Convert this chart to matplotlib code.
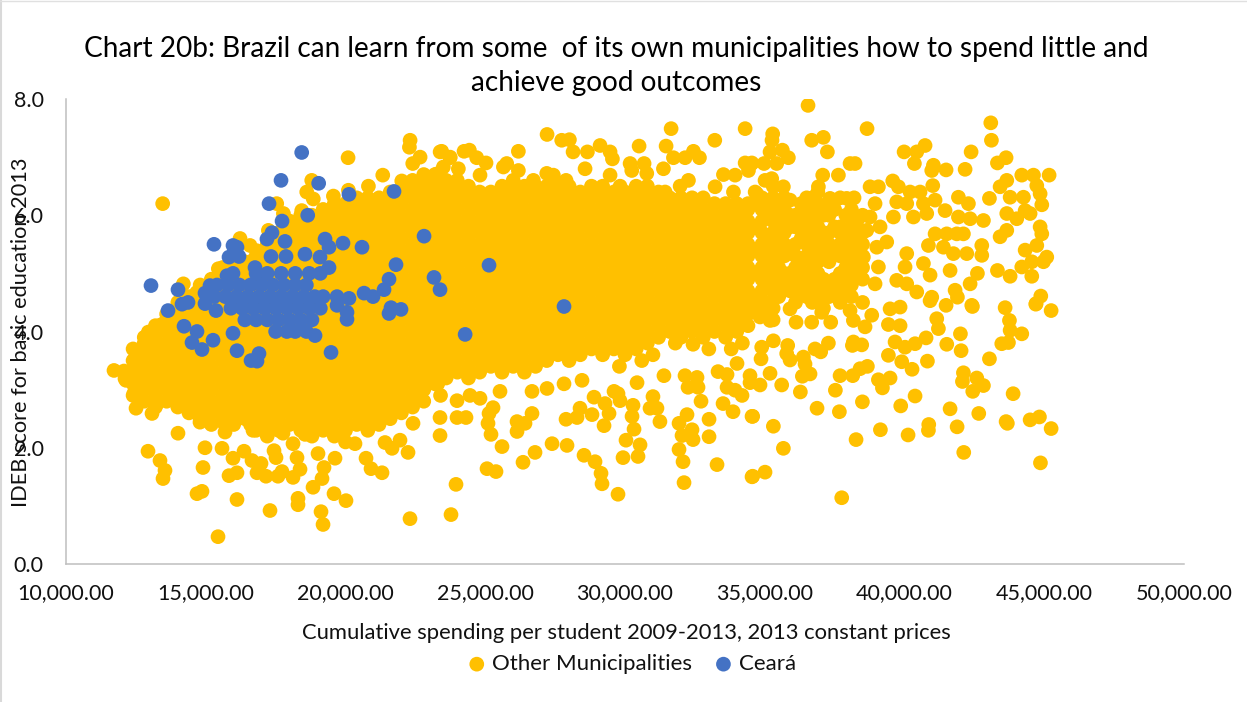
import matplotlib
matplotlib.use("Agg")
import matplotlib.pyplot as plt
from matplotlib.lines import Line2D
from matplotlib.ticker import StrMethodFormatter

plt.rcParams["font.family"] = ["Lato", "DejaVu Sans"]

title_text = "Chart 20b: Brazil can learn from some  of its own municipalities how to spend little and\nachieve good outcomes"
x_title = "Cumulative spending per student 2009-2013, 2013 constant prices"
y_title = "IDEB score for basic education 2013"
x_ticks = [10000, 15000, 20000, 25000, 30000, 35000, 40000, 45000, 50000]
y_ticks = [0, 2, 4, 6, 8]

# The solid middle of the cloud, read column by column: spending, then the scores at that spending.
body_spend = [12400, 12800, 13200, 13600, 14000, 14400, 14800, 15200, 15600, 16000, 16400, 16600, 16800, 17200, 17600,
              18000, 18400, 18800, 19200, 19600, 20000, 20400, 20800, 21200, 21600, 22000, 22400, 22800, 23200,
              23600, 24000, 24400, 24800, 25200, 25600, 26000, 26400, 26800, 27200, 27600, 28000, 28400, 28800,
              29200, 29600, 30000, 30400, 30800, 31200, 31600, 32000, 32400, 32800, 33200, 33600, 34000, 34400,
              34900, 35300, 35700, 36100, 36500, 36900, 37300, 37700, 38100, 38500]
body_scores = [
    [2.9, 3.1, 3.3, 3.5, 3.7],
    [2.8, 3.0, 3.2, 3.4, 3.6, 3.8, 3.9],
    [2.7, 2.9, 3.1, 3.3, 3.5, 3.7, 3.9, 4.1],
    [2.8, 3.0, 3.2, 3.4, 3.6, 3.8, 4.0, 4.2, 4.3],
    [2.7, 2.9, 3.1, 3.3, 3.5, 3.7, 3.9, 4.1, 4.3, 4.5],
    [2.6, 2.8, 3.0, 3.2, 3.4, 3.6, 3.8, 4.0, 4.2, 4.4, 4.6],
    [2.5, 2.7, 2.9, 3.1, 3.3, 3.5, 3.7, 3.9, 4.1, 4.3, 4.5, 4.7, 4.8],
    [2.4, 2.6, 2.8, 3.0, 3.2, 3.4, 3.6, 3.8, 4.0, 4.2, 4.4, 4.6, 4.8, 4.9],
    [2.5, 2.7, 2.9, 3.1, 3.3, 3.5, 3.7, 3.9, 4.1, 4.3, 4.5, 4.7, 4.9, 5.1],
    [2.4, 2.6, 2.8, 3.0, 3.2, 3.4, 3.6, 3.8, 4.0, 4.2, 4.4, 4.6, 4.8, 5.0, 5.2],
    [2.5, 2.7, 2.9, 3.1, 3.3, 3.5, 3.7, 3.9, 4.1, 4.3, 4.5, 4.7, 4.9, 5.1, 5.2],
    [2.4, 2.6, 2.8, 3.0, 3.2, 3.4, 3.6, 3.8, 4.0, 4.2, 4.4, 4.6, 4.8, 5.0, 5.2],
    [2.3, 2.5, 2.7, 2.9, 3.1, 3.3, 3.5, 3.7, 3.9, 4.1, 4.3, 4.5, 4.7, 4.9, 5.1, 5.3],
    [2.2, 2.4, 2.6, 2.8, 3.0, 3.2, 3.4, 3.6, 3.8, 4.0, 4.2, 4.4, 4.6, 4.8, 5.0, 5.2, 5.4, 5.5],
    [2.3, 2.5, 2.7, 2.9, 3.1, 3.3, 3.5, 3.7, 3.9, 4.1, 4.3, 4.5, 4.7, 4.9, 5.1, 5.3, 5.5, 5.7],
    [2.4, 2.6, 2.8, 3.0, 3.2, 3.4, 3.6, 3.8, 4.0, 4.2, 4.4, 4.6, 4.8, 5.0, 5.2, 5.4, 5.6, 5.8, 5.9],
    [2.3, 2.5, 2.7, 2.9, 3.1, 3.3, 3.5, 3.7, 3.9, 4.1, 4.3, 4.5, 4.7, 4.9, 5.1, 5.3, 5.5, 5.7, 5.9, 6.0],
    [2.2, 2.4, 2.6, 2.8, 3.0, 3.2, 3.4, 3.6, 3.8, 4.0, 4.2, 4.4, 4.6, 4.8, 5.0, 5.2, 5.4, 5.6, 5.8, 6.0],
    [2.3, 2.5, 2.7, 2.9, 3.1, 3.3, 3.5, 3.7, 3.9, 4.1, 4.3, 4.5, 4.7, 4.9, 5.1, 5.3, 5.5, 5.7, 5.9, 6.1],
    [2.2, 2.4, 2.6, 2.8, 3.0, 3.2, 3.4, 3.6, 3.8, 4.0, 4.2, 4.4, 4.6, 4.8, 5.0, 5.2, 5.4, 5.6, 5.8, 6.0, 6.2],
    [2.1, 2.3, 2.5, 2.7, 2.9, 3.1, 3.3, 3.5, 3.7, 3.9, 4.1, 4.3, 4.5, 4.7, 4.9, 5.1, 5.3, 5.5, 5.7, 5.9, 6.1, 6.2],
    [2.4, 2.6, 2.8, 3.0, 3.2, 3.4, 3.6, 3.8, 4.0, 4.2, 4.4, 4.6, 4.8, 5.0, 5.2, 5.4, 5.6, 5.8, 6.0, 6.2, 6.3],
    [2.3, 2.5, 2.7, 2.9, 3.1, 3.3, 3.5, 3.7, 3.9, 4.1, 4.3, 4.5, 4.7, 4.9, 5.1, 5.3, 5.5, 5.7, 5.9, 6.1, 6.3],
    [2.4, 2.6, 2.8, 3.0, 3.2, 3.4, 3.6, 3.8, 4.0, 4.2, 4.4, 4.6, 4.8, 5.0, 5.2, 5.4, 5.6, 5.8, 6.0, 6.2, 6.3],
    [2.5, 2.7, 2.9, 3.1, 3.3, 3.5, 3.7, 3.9, 4.1, 4.3, 4.5, 4.7, 4.9, 5.1, 5.3, 5.5, 5.7, 5.9, 6.1, 6.3, 6.4],
    [2.6, 2.8, 3.0, 3.2, 3.4, 3.6, 3.8, 4.0, 4.2, 4.4, 4.6, 4.8, 5.0, 5.2, 5.4, 5.6, 5.8, 6.0, 6.2, 6.4],
    [2.7, 2.9, 3.1, 3.3, 3.5, 3.7, 3.9, 4.1, 4.3, 4.5, 4.7, 4.9, 5.1, 5.3, 5.5, 5.7, 5.9, 6.1, 6.3, 6.5, 6.6],
    [2.8, 3.0, 3.2, 3.4, 3.6, 3.8, 4.0, 4.2, 4.4, 4.6, 4.8, 5.0, 5.2, 5.4, 5.6, 5.8, 6.0, 6.2, 6.4, 6.6, 6.7],
    [3.1, 3.3, 3.5, 3.7, 3.9, 4.1, 4.3, 4.5, 4.7, 4.9, 5.1, 5.3, 5.5, 5.7, 5.9, 6.1, 6.3, 6.5, 6.7],
    [3.2, 3.4, 3.6, 3.8, 4.0, 4.2, 4.4, 4.6, 4.8, 5.0, 5.2, 5.4, 5.6, 5.8, 6.0, 6.2, 6.4, 6.6],
    [3.3, 3.5, 3.7, 3.9, 4.1, 4.3, 4.5, 4.7, 4.9, 5.1, 5.3, 5.5, 5.7, 5.9, 6.1, 6.3, 6.5, 6.6],
    [3.2, 3.4, 3.6, 3.8, 4.0, 4.2, 4.4, 4.6, 4.8, 5.0, 5.2, 5.4, 5.6, 5.8, 6.0, 6.2, 6.4, 6.5],
    [3.3, 3.5, 3.7, 3.9, 4.1, 4.3, 4.5, 4.7, 4.9, 5.1, 5.3, 5.5, 5.7, 5.9, 6.1, 6.3, 6.4],
    [3.4, 3.6, 3.8, 4.0, 4.2, 4.4, 4.6, 4.8, 5.0, 5.2, 5.4, 5.6, 5.8, 6.0, 6.2, 6.4],
    [3.3, 3.5, 3.7, 3.9, 4.1, 4.3, 4.5, 4.7, 4.9, 5.1, 5.3, 5.5, 5.7, 5.9, 6.1, 6.3, 6.5],
    [3.4, 3.6, 3.8, 4.0, 4.2, 4.4, 4.6, 4.8, 5.0, 5.2, 5.4, 5.6, 5.8, 6.0, 6.2, 6.4, 6.6],
    [3.3, 3.5, 3.7, 3.9, 4.1, 4.3, 4.5, 4.7, 4.9, 5.1, 5.3, 5.5, 5.7, 5.9, 6.1, 6.3, 6.5],
    [3.4, 3.6, 3.8, 4.0, 4.2, 4.4, 4.6, 4.8, 5.0, 5.2, 5.4, 5.6, 5.8, 6.0, 6.2, 6.4, 6.5],
    [3.5, 3.7, 3.9, 4.1, 4.3, 4.5, 4.7, 4.9, 5.1, 5.3, 5.5, 5.7, 5.9, 6.1, 6.3, 6.5],
    [3.6, 3.8, 4.0, 4.2, 4.4, 4.6, 4.8, 5.0, 5.2, 5.4, 5.6, 5.8, 6.0, 6.2, 6.4, 6.5],
    [3.5, 3.7, 3.9, 4.1, 4.3, 4.5, 4.7, 4.9, 5.1, 5.3, 5.5, 5.7, 5.9, 6.1, 6.3, 6.5],
    [3.6, 3.8, 4.0, 4.2, 4.4, 4.6, 4.8, 5.0, 5.2, 5.4, 5.6, 5.8, 6.0, 6.2, 6.4],
    [3.7, 3.9, 4.1, 4.3, 4.5, 4.7, 4.9, 5.1, 5.3, 5.5, 5.7, 5.9, 6.1, 6.3, 6.5],
    [3.6, 3.8, 4.0, 4.2, 4.4, 4.6, 4.8, 5.0, 5.2, 5.4, 5.6, 5.8, 6.0, 6.2, 6.4, 6.5],
    [3.7, 3.9, 4.1, 4.3, 4.5, 4.7, 4.9, 5.1, 5.3, 5.5, 5.7, 5.9, 6.1, 6.3, 6.4],
    [3.6, 3.8, 4.0, 4.2, 4.4, 4.6, 4.8, 5.0, 5.2, 5.4, 5.6, 5.8, 6.0, 6.2, 6.4],
    [3.7, 3.9, 4.1, 4.3, 4.5, 4.7, 4.9, 5.1, 5.3, 5.5, 5.7, 5.9, 6.1, 6.3, 6.5],
    [3.8, 4.0, 4.2, 4.4, 4.6, 4.8, 5.0, 5.2, 5.4, 5.6, 5.8, 6.0, 6.2, 6.4, 6.5],
    [3.9, 4.1, 4.3, 4.5, 4.7, 4.9, 5.1, 5.3, 5.5, 5.7, 5.9, 6.1, 6.3, 6.4],
    [4.0, 4.2, 4.4, 4.6, 4.8, 5.0, 5.2, 5.4, 5.6, 5.8, 6.0, 6.2, 6.3],
    [3.9, 4.1, 4.3, 4.5, 4.7, 4.9, 5.1, 5.3, 5.5, 5.7, 5.9, 6.1, 6.3],
    [4.0, 4.2, 4.4, 4.6, 4.8, 5.0, 5.2, 5.4, 5.6, 5.8, 6.0, 6.2, 6.3],
    [3.9, 4.1, 4.3, 4.5, 4.7, 4.9, 5.1, 5.3, 5.5, 5.7, 5.9, 6.1, 6.3],
    [4.0, 4.2, 4.4, 4.6, 4.8, 5.0, 5.2, 5.4, 5.6, 5.8, 6.0, 6.2],
    [3.9, 4.1, 4.3, 4.5, 4.7, 4.9, 5.1, 5.3, 5.5, 5.7, 5.9, 6.1, 6.2],
    [4.0, 4.2, 4.4, 4.6, 4.8, 5.0, 5.2, 5.4, 5.6, 5.8, 6.0, 6.2],
    [4.1, 4.3, 4.5, 4.7, 4.9, 5.1, 5.3, 5.5, 5.7, 5.9, 6.1, 6.2],
    [4.3, 4.5, 4.7, 4.9, 5.1, 5.3, 5.5, 5.7, 5.9, 6.1, 6.3],
    [4.2, 4.4, 4.7, 4.9, 5.0, 5.2, 5.4, 5.7, 5.9, 6.1, 6.3, 6.5],
    [4.8, 5.0, 5.3, 5.5, 5.7, 5.9, 6.1, 6.3],
    [4.5, 4.7, 4.9, 5.1, 5.3, 5.5, 5.8, 6.0],
    [4.6, 4.8, 5.0, 5.3, 5.5, 5.7, 5.9, 6.1, 6.3],
    [4.5, 4.7, 5.0, 5.2, 5.4, 5.6, 5.8, 6.0, 6.2, 6.4],
    [4.6, 4.8, 5.2, 5.5, 5.7, 6.0, 6.2],
    [4.5, 4.7, 5.0, 5.3, 5.5, 5.7, 5.8, 6.3],
    [4.6, 4.8, 5.2, 5.4, 5.6, 5.8, 6.1],
    [4.5, 4.9, 5.1, 5.3, 5.5, 5.7, 6.0],
]

# Separate dots around the cloud, as (spending, score).
other_low_left = [
    (15439, 0.47), (17299, 0.92), (16118, 1.11), (14687, 1.21), (14866, 1.25), (13471, 1.47), (13542, 1.61),
    (13363, 1.78), (12934, 1.94), (14007, 2.25), (14973, 2.0), (14902, 1.66), (15582, 1.99), (15832, 1.52),
    (16118, 1.57), (15975, 1.82), (16369, 1.94), (16655, 1.78), (16977, 1.73), (16834, 1.57), (17156, 1.51),
    (17585, 1.51), (17728, 1.59), (18122, 1.49), (18373, 1.63), (18265, 1.83), (17442, 1.95), (17514, 1.83),
    (18122, 2.07), (18301, 1.13), (18301, 1.02), (18838, 1.32), (19160, 1.47), (19231, 1.66), (19017, 1.9),
    (19625, 1.82), (19589, 1.21), (20018, 1.09), (19124, 0.9), (19196, 0.68), (20734, 1.82), (20913, 1.64),
    (21307, 1.57), (20340, 2.07), (21414, 2.09), (21665, 1.99), (21950, 2.13), (22237, 1.92), (22308, 0.78),
    (21164, 2.42), (22416, 2.42), (18552, 2.23), (17764, 2.25), (16690, 2.3), (14794, 2.44), (15689, 2.27),
    (15618, 2.44), (12505, 2.68), (13077, 2.59), (12433, 2.94), (13256, 2.76),
]
other_low_mid = [
    (23775, 0.85), (23954, 1.37), (25063, 1.64), (25385, 1.59), (26351, 1.75), (26781, 1.92), (27390, 2.07),
    (27926, 2.04), (28534, 1.87), (28928, 1.76), (29142, 1.56), (29178, 1.38), (29750, 1.2), (29929, 1.83),
    (30466, 1.85), (30538, 2.05), (30036, 2.13), (32112, 1.4), (32076, 1.76), (31933, 1.97), (33293, 1.71),
    (34545, 1.5), (33007, 2.19), (32434, 2.14), (32040, 2.21), (32398, 2.31), (31933, 2.42), (32219, 2.57),
    (33007, 2.49), (34545, 2.54), (33865, 2.62), (33508, 2.76), (34187, 2.9), (33651, 3.04), (32720, 2.8),
    (31250, 2.45), (31144, 2.68), (30895, 2.68), (31001, 2.88), (30287, 2.73), (30252, 2.54), (30323, 2.32),
    (29250, 2.38), (29429, 2.59), (28820, 2.57), (28391, 2.68), (28284, 2.52), (27890, 2.49), (29285, 2.76),
    (28892, 2.87), (29822, 2.81), (29750, 2.93), (29607, 2.97), (25600, 2.02), (25206, 2.23), (25099, 2.42),
    (25135, 2.59), (26137, 2.28), (26137, 2.45), (26423, 2.42), (26673, 2.59), (23990, 2.52), (24312, 2.52),
    (23382, 2.21), (23382, 2.52), (25278, 2.69), (24813, 2.85), (24455, 2.9), (23990, 2.81), (25528, 2.97),
    (26673, 2.97), (27210, 3.02), (27818, 3.1), (28462, 3.16), (30431, 3.12), (31393, 3.24), (32147, 3.24),
    (32577, 3.21), (32255, 3.04), (32613, 3.04), (33329, 3.31), (33651, 3.26), (34008, 3.45), (34473, 3.24),
    (34473, 3.12), (33937, 2.99), (32434, 3.78), (23400, 2.9), (23300, 3.1), (30600, 3.5), (29800, 3.4),
]
other_low_right = [
    (37754, 1.14), (34568, 1.51), (35010, 1.58), (35666, 1.99), (35308, 2.37), (34568, 2.54), (38267, 2.14),
    (39138, 2.31), (40128, 2.22), (40856, 2.3), (40868, 2.4), (41882, 2.36), (42120, 1.92), (41631, 2.67),
    (42657, 2.59), (43635, 2.45), (43680, 2.42), (44494, 2.48), (44828, 2.53), (45246, 2.33), (44864, 1.74),
    (43886, 2.93), (39865, 2.72), (40378, 2.89), (38494, 2.79), (37670, 2.62), (36871, 2.68), (37527, 2.99),
    (36274, 2.96), (35606, 3.08), (34831, 3.08), (35189, 3.28), (36346, 3.23), (36620, 3.27), (36441, 3.44),
    (36382, 3.56), (37694, 3.24), (38148, 3.24), (38410, 3.36), (38672, 3.4), (39066, 3.17), (39484, 3.2),
    (39210, 3.03), (40271, 3.35), (39901, 3.48), (40820, 3.49), (42108, 3.29), (42585, 3.2), (42073, 3.14),
    (42442, 2.97), (42824, 3.07), (43039, 3.53), (42025, 3.67), (42001, 3.96), (41512, 3.78), (39424, 3.59),
    (39662, 3.82), (40020, 3.73), (40378, 3.79), (40772, 3.89), (41213, 4.05), (41154, 4.22), (38135, 3.76),
    (38469, 3.77), (38172, 3.82), (37002, 3.65), (37277, 3.8), (36800, 3.7), (35905, 3.51), (35785, 3.62),
    (35821, 3.76), (34867, 3.53), (34891, 3.73), (35308, 3.84), (43480, 3.79), (43719, 3.81), (44196, 3.96),
    (43779, 4.02), (43755, 4.19), (43600, 4.41), (45246, 4.36), (44697, 4.47), (42430, 4.43), (41488, 4.45),
    (40915, 4.53), (39842, 4.1), (39424, 4.12), (36120, 4.16), (36680, 4.16), (37360, 4.16), (38171, 4.19),
    (38589, 4.08), (38828, 4.28), (39484, 4.39), (39842, 4.42), (35905, 4.39), (34831, 4.25), (35189, 4.19),
    (37038, 4.33), (38052, 4.36),
]
# In-between dots that thicken the right half of the cloud.
other_right_fill = [
    (34650, 4.4), (34650, 4.6), (34650, 5.0), (34650, 5.4), (34650, 5.8), (34650, 6.2), (35100, 4.5), (35100, 4.8),
    (35100, 5.2), (35100, 5.6), (35100, 6.0), (35100, 6.2), (35500, 4.6), (35500, 5.1), (35500, 5.5), (35500, 5.8),
    (35500, 6.0), (35500, 6.2), (35900, 4.7), (35900, 5.0), (35900, 5.4), (35900, 5.8), (35900, 6.0), (36300, 4.8),
    (36300, 5.2), (36300, 5.6), (36300, 5.9), (36300, 6.2), (36700, 4.5), (36700, 4.9), (36700, 5.2), (36700, 5.6),
    (36700, 5.9), (36700, 6.3), (37100, 4.4), (37100, 4.9), (37100, 5.3), (37100, 5.7), (37100, 6.0), (37500, 4.9),
    (37500, 5.4), (37500, 5.8), (37500, 6.1), (37900, 4.9), (37900, 5.1), (37900, 5.6), (37900, 6.0), (38300, 5.0),
    (38300, 5.3), (38300, 5.6), (38300, 5.9), (34200, 3.8), (33800, 3.7), (33000, 3.7), (31000, 3.6), (31800, 3.8),
]
other_top_right = [
    (36549, 7.89), (38660, 7.49), (35284, 7.4), (35260, 7.29), (36680, 7.29), (37097, 7.34), (37241, 7.09),
    (35845, 6.99), (35630, 7.12), (35189, 7.09), (35427, 6.89), (34974, 6.89), (34533, 6.89), (38052, 6.89),
    (38231, 6.89), (37074, 6.69), (37635, 6.69), (36919, 6.49), (35249, 6.63), (35010, 6.6), (35666, 6.49),
    (34712, 6.37), (35905, 6.26), (36680, 6.26), (36322, 6.03), (37336, 6.29), (37933, 6.29), (38195, 6.3),
    (38768, 6.49), (39066, 6.49), (38947, 6.2), (39579, 6.59), (39782, 6.49), (39985, 7.09), (40736, 7.2),
    (40438, 7.09), (40354, 6.89), (41035, 6.86), (41488, 6.78), (40975, 6.77), (42383, 7.09), (42168, 6.79),
    (43087, 7.59), (43110, 7.29), (43635, 6.99), (43325, 6.9), (43659, 6.6), (43420, 6.49), (43039, 6.29),
    (44196, 6.69), (44614, 6.69), (45174, 6.69), (44733, 6.51), (44852, 6.37), (44912, 6.18), (41011, 6.51),
    (40557, 6.4), (40199, 6.4), (41929, 6.31), (42287, 6.2), (41452, 6.08), (41094, 6.26), (44256, 6.31),
    (43779, 6.31), (44494, 6.03), (44017, 5.94), (43659, 6.03), (44316, 6.08), (42824, 5.91), (42347, 5.94),
    (41929, 5.97), (44852, 5.8), (44912, 5.68), (43420, 5.63), (43659, 5.74), (44733, 5.48), (44316, 5.4),
    (45090, 5.28), (44972, 5.2), (44554, 5.2), (44196, 5.11), (43779, 4.95), (44554, 4.95), (43325, 5.05),
    (42609, 5.0), (42347, 4.82), (41810, 4.71), (42407, 4.45), (41893, 4.59), (44876, 4.61), (44709, 4.48),
    (41512, 5.68), (41094, 5.68), (40856, 5.48), (41393, 5.45), (42765, 5.48), (42765, 5.31), (42228, 5.34),
    (41750, 5.34), (40677, 5.17), (40915, 4.97), (40975, 4.59), (41631, 5.05), (40438, 4.68), (40080, 4.82),
    (39722, 4.88), (40020, 5.11), (40080, 5.34), (39603, 5.97), (39126, 5.8), (39364, 5.54), (39007, 5.45),
    (39066, 5.11), (38947, 4.82), (38529, 5.28), (38052, 5.4), (40319, 5.97), (40796, 6.03), (40080, 6.2),
    (40677, 6.2), (39722, 6.23), (38171, 5.97), (38768, 5.97), (38649, 5.74), (42108, 5.68), (41870, 5.68),
]
other_top_mid = [
    (27212, 7.39), (27736, 7.29), (28011, 7.3), (28142, 7.09), (31650, 7.49), (34298, 7.49), (33212, 7.29),
    (30504, 7.19), (31470, 7.19), (26185, 7.1), (23442, 7.1), (23740, 7.0), (24241, 7.1), (24432, 7.12),
    (24694, 6.99), (25028, 6.9), (28655, 7.09), (29108, 7.2), (29466, 7.09), (29550, 6.97), (31733, 6.99),
    (32151, 6.99), (32449, 7.1), (32664, 6.99), (30182, 6.89), (30683, 6.89), (31375, 6.8), (30242, 6.77),
    (33522, 6.7), (33940, 6.69), (34298, 6.9), (34537, 6.9), (34417, 6.77), (28571, 6.8), (29466, 6.69),
    (32270, 6.6), (31972, 6.5), (33224, 6.49), (33880, 6.4), (34656, 6.4), (31435, 6.4), (29824, 6.5),
    (30779, 6.72), (27200, 6.72), (27438, 6.69), (27891, 6.6), (26722, 6.6), (26185, 6.77), (25768, 6.89),
    (24813, 6.69), (25649, 6.83), (24038, 6.8), (23501, 6.83),
]
other_top_left = [
    (13459, 6.2), (20092, 6.99), (22311, 7.29), (22287, 7.17), (22669, 7.0), (22406, 6.89), (23385, 7.09),
    (23743, 6.99), (21333, 6.69), (22013, 6.59), (22132, 6.47), (22788, 6.6), (23265, 6.71), (20820, 6.5),
    (20104, 6.43), (19567, 6.33), (18792, 6.6), (18613, 6.4), (18848, 6.28), (17539, 6.2), (17778, 6.03),
    (18434, 6.08), (18255, 5.74), (17241, 5.74), (16227, 5.6), (16585, 5.48), (16823, 5.39), (16287, 5.17),
    (15451, 5.08), (16287, 4.88), (14199, 4.82), (14676, 4.67), (14139, 4.28), (14676, 4.16), (15153, 4.25),
    (12946, 3.99), (13423, 4.12), (13065, 3.79), (12552, 3.59), (12075, 3.32), (12147, 3.16), (12886, 3.16),
    (11717, 3.33), (12110, 3.19),
]

ceara_outer = [
    (18433, 7.08), (17693, 6.6), (19040, 6.55), (20125, 6.36), (21736, 6.41), (17264, 6.2), (18648, 6.0),
    (17730, 5.9), (17370, 5.7), (17190, 5.59), (17836, 5.55), (19268, 5.59), (19410, 5.45), (19910, 5.52),
    (20590, 5.45), (22810, 5.64), (15295, 5.5), (15975, 5.48), (16118, 5.45), (16190, 5.29), (15832, 5.28),
    (17335, 5.29), (17872, 5.29), (18550, 5.33), (19088, 5.28), (19410, 5.1), (16762, 5.1), (21807, 5.15),
    (21557, 4.9), (21378, 4.72), (23167, 4.93), (23382, 4.72), (20663, 4.66), (20985, 4.6), (13041, 4.79),
    (14007, 4.72), (14365, 4.5), (14150, 4.47), (13650, 4.36), (14222, 4.09), (14687, 4.0), (14508, 3.81),
    (14866, 3.69), (15260, 3.85), (15975, 3.97), (16118, 3.67), (16905, 3.62), (16620, 3.5), (16834, 3.49),
    (18910, 3.93), (19482, 3.64), (21557, 4.31), (21628, 4.41), (21986, 4.38), (20054, 4.21), (20054, 4.33),
    (19696, 4.6), (20125, 4.57), (19696, 4.45), (15152, 4.79), (14973, 4.66), (14973, 4.48), (15367, 4.36),
    (15760, 4.96), (15975, 5.0), (25135, 5.14), (27818, 4.43), (24280, 3.95),
]
ceara_core = [
    (16800, 5.0), (17200, 5.0), (17700, 5.0), (18200, 5.0), (18700, 5.0), (19100, 5.0),
    (15400, 4.8), (15800, 4.8), (16200, 4.8), (16600, 4.8), (17000, 4.8), (17400, 4.8), (17800, 4.8), (18200, 4.8),
    (18600, 4.8), (15300, 4.6), (15700, 4.6), (16100, 4.6), (16500, 4.6), (16900, 4.6), (17300, 4.6), (17700, 4.6),
    (18100, 4.6), (18500, 4.6), (18900, 4.6), (19200, 4.6), (15900, 4.4), (16300, 4.4), (16700, 4.4), (17100, 4.4),
    (17500, 4.4), (17900, 4.4), (18300, 4.4), (18700, 4.4), (19100, 4.4), (16400, 4.2), (16800, 4.2), (17200, 4.2),
    (17600, 4.2), (18000, 4.2), (18400, 4.2), (18800, 4.2), (17500, 4.0), (17900, 4.0), (18200, 4.0), (18600, 4.0),
]

other_x = []
other_y = []
for spend, scores in zip(body_spend, body_scores):
    for score in scores:
        other_x.append(spend)
        other_y.append(score)
for group in [other_low_left, other_low_mid, other_low_right, other_right_fill, other_top_right, other_top_mid,
              other_top_left]:
    for spend, score in group:
        other_x.append(spend)
        other_y.append(score)

ceara_x = [p[0] for p in ceara_outer + ceara_core]
ceara_y = [p[1] for p in ceara_outer + ceara_core]

fig = plt.figure(figsize=(12.47, 7.02), dpi=100)
ax = fig.add_axes([66 / 1247, 1 - 564 / 702, (1184 - 66) / 1247, (564 - 99) / 702])

ax.scatter(other_x, other_y, s=112, c="#FFC000", edgecolors="none", zorder=2, label="Other Municipalities")
ax.scatter(ceara_x, ceara_y, s=112, c="#4472C4", edgecolors="none", zorder=3, label="Ceará")

ax.set_xlim(10000, 50000)
ax.set_ylim(0, 8)
ax.set_xticks(x_ticks)
ax.set_yticks(y_ticks)
ax.xaxis.set_major_formatter(StrMethodFormatter("{x:,.2f}"))
ax.yaxis.set_major_formatter(StrMethodFormatter("{x:.1f}"))
ax.tick_params(length=0, labelsize=15.5, pad=14, labelcolor="#111111")
ax.tick_params(axis="y", pad=16)

for side in ["top", "right"]:
    ax.spines[side].set_visible(False)
for side in ["left", "bottom"]:
    ax.spines[side].set_color("#bfbfbf")
    ax.spines[side].set_linewidth(1.1)

fig.text(616 / 1247, 1 - 66 / 702, title_text, ha="center", va="center", fontsize=20.2, color="black", linespacing=1.36)
fig.text(626 / 1247, 1 - 633 / 702, x_title, ha="center", va="center", fontsize=15.8, color="#111111")
fig.text(21 / 1247, 1 - 332 / 702, y_title, rotation=90, ha="center", va="center", fontsize=15.7, color="#111111")

fig.legend(loc="center", bbox_to_anchor=(632 / 1247, 1 - 664 / 702), ncol=2, frameon=False, fontsize=16,
           handlelength=0.8, handletextpad=0.3, columnspacing=1.0, borderpad=0, labelcolor="#111111")

# thin grey edge of the pasted picture
fig.add_artist(Line2D([0.001, 0.001], [0, 1], color="#d9d9d9", linewidth=1.5))
fig.add_artist(Line2D([0, 1], [0.998, 0.998], color="#e0e0e0", linewidth=1))

fig.savefig("out.png", dpi=100)
